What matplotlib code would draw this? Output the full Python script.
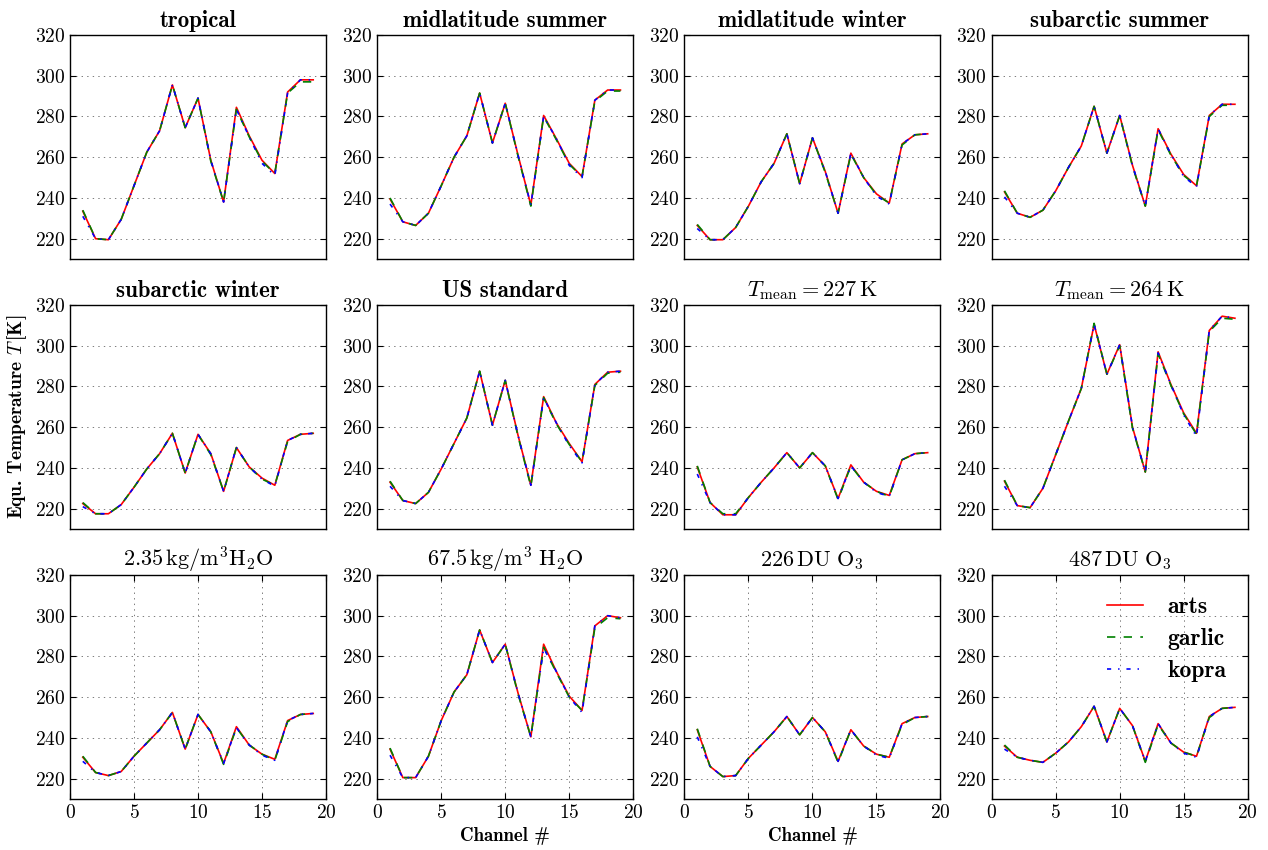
import numpy as np
import matplotlib
matplotlib.use('Agg')
import matplotlib.pyplot as plt

plt.rcParams.update({
    'font.family': 'serif',
    'font.serif': ['cmr10'],
    'mathtext.fontset': 'cm',
    'axes.formatter.use_mathtext': True,
    'axes.unicode_minus': False,
    'xtick.direction': 'in',
    'ytick.direction': 'in',
    'xtick.top': True,
    'ytick.right': True,
    'xtick.major.size': 4,
    'ytick.major.size': 4,
    'xtick.labelsize': 14,
    'ytick.labelsize': 14,
    'axes.linewidth': 1.0,
    'lines.scale_dashes': False,
    'lines.dashed_pattern': [6, 6],
    'lines.dashdot_pattern': [3, 5, 1, 5],
    'lines.dotted_pattern': [1, 3],
})

#%% Data (equivalent brightness temperatures per channel)
channels = np.arange(1, 20)

panels = ['tropical', 'mls', 'mlw', 'sas', 'saw', 'us',
          't227', 't264', 'h2o_low', 'h2o_high', 'o3_low', 'o3_high']

titles = ['tropical', 'midlatitude summer', 'midlatitude winter', 'subarctic summer',
          'subarctic winter', 'US standard',
          r'$T_{\mathrm{mean}} = 227\,\mathrm{K}$', r'$T_{\mathrm{mean}} = 264\,\mathrm{K}$',
          r'$2.35\,\mathrm{kg/m^3 H_2O}$', r'$67.5\,\mathrm{kg/m^3\ H_2O}$',
          r'$226\,\mathrm{DU\ O_3}$', r'$487\,\mathrm{DU\ O_3}$']
bold_title = [True] * 6 + [False] * 6

arts = {
    'tropical': [233.5, 220, 219.5, 229.5, 246, 262.5, 273, 295.5, 274.5, 289, 258.5, 238, 284.5, 270.5, 258.5, 252, 292, 298, 298],
    'mls':      [239.5, 228.3, 226.5, 232.5, 246, 260, 270.5, 291.5, 267, 286.5, 261, 236.5, 280.5, 269, 257, 250.5, 288, 293, 293],
    'mlw':      [226.5, 219.5, 219.5, 225.5, 236, 248, 257, 271.5, 247, 269.5, 253, 232.5, 262, 250, 242, 237.5, 266.5, 271, 271.5],
    'sas':      [243, 232.5, 230.5, 234, 243.5, 255, 265.5, 285, 262, 280.5, 256, 236, 274, 261.5, 251.5, 246, 280.5, 286, 286],
    'saw':      [222.5, 217.5, 217.5, 222, 230.5, 239.5, 247, 257, 237.5, 256.5, 247, 228.5, 250, 240.5, 235, 231.5, 253.5, 256.5, 257],
    'us':       [233, 224, 222.5, 228, 239.5, 252, 264.5, 287.5, 261, 283, 256, 231.5, 275, 262, 252, 243, 281, 287, 287.5],
    't227':     [240.5, 223, 217, 217, 225.5, 233, 240, 247.5, 240, 247.5, 241, 225, 241.5, 233, 228.5, 226.5, 244, 247, 247.5],
    't264':     [233.5, 221.5, 220.5, 230, 246.5, 263, 279, 310.5, 286, 300.5, 260, 238, 297, 281, 267, 257, 307.5, 314.5, 313.5],
    'h2o_low':  [230.5, 223, 221.5, 223.5, 231, 237.5, 244, 252.5, 234.5, 251.5, 243, 227.5, 245.5, 236.5, 232, 229.5, 248.5, 251.5, 252],
    'h2o_high': [234.5, 220.5, 220.5, 231, 248.5, 262.5, 271, 293, 277, 286, 262, 240.5, 286, 272.5, 260.5, 253.5, 295, 300, 299],
    'o3_low':   [244, 226, 221, 221.5, 230, 236.5, 243, 250.5, 241.5, 250, 243, 228.5, 244, 236, 232, 230.5, 247, 250, 250.5],
    'o3_high':  [236, 230.5, 229, 228, 232.5, 238, 245.5, 255.5, 238, 254.5, 246, 228.5, 247, 237.5, 233, 231, 250.5, 254.5, 255],
}

garlic = {
    'tropical': [234, 220, 219.5, 229.5, 246, 262.5, 273, 295.5, 274.5, 289, 258, 238, 283.5, 270, 258, 252, 291.5, 297, 297],
    'mls':      [240, 228.3, 226.5, 232.5, 246, 260, 270.5, 291.5, 267, 286.5, 260.5, 236, 280, 268.5, 256.5, 250.5, 287.5, 292.5, 292.5],
    'mlw':      [227, 219.5, 219.5, 225.5, 236, 248, 257, 271.5, 247, 269.5, 252.5, 232.5, 261.5, 250, 241.5, 237.5, 266, 271, 271.5],
    'sas':      [243.5, 232.5, 230.5, 234, 243.5, 255, 265.5, 285, 262, 280.5, 255.5, 236, 273.5, 261, 251, 246, 280, 285.5, 285.5],
    'saw':      [223, 217.5, 217.5, 222, 230.5, 239.5, 247, 257, 237.5, 256.5, 246.5, 228.5, 250, 240.5, 234.5, 231.5, 253, 256.5, 257],
    'us':       [233.5, 224, 222.5, 228, 239.5, 252, 264.5, 287.5, 261, 283, 255.5, 231, 274.5, 261.5, 251.5, 243, 280.5, 286.5, 287],
    't227':     [241, 223, 217.5, 217.5, 225.5, 233, 240, 247.5, 240, 247.5, 241, 224.5, 241, 233, 228.5, 226, 244, 247, 247.5],
    't264':     [234, 221.5, 220.5, 230, 246.5, 263, 279, 311, 286, 300, 259.5, 238, 296, 280.5, 266.5, 256.5, 307, 313.5, 313],
    'h2o_low':  [231, 223, 221.5, 223.5, 231, 237.5, 244, 252.5, 234.5, 251.5, 243, 227, 245, 236.5, 232, 229, 248, 251.5, 252],
    'h2o_high': [235, 220.5, 220.5, 231, 248.5, 262.5, 271, 293, 277, 286, 261.5, 240.5, 284.5, 272, 260, 253.5, 294, 299, 298.5],
    'o3_low':   [244.5, 226, 221, 221.5, 230, 236.5, 243, 250.5, 241.5, 250, 243, 228, 244, 236, 232, 230.5, 246.5, 250, 250.5],
    'o3_high':  [236.5, 230.5, 229, 228, 232.5, 238, 245.5, 255.5, 238, 254.5, 246, 228, 246.5, 237.5, 233, 231, 250, 254.5, 255],
}

kopra = {
    'tropical': [231, 220, 219.5, 229.5, 246, 262.5, 273, 295.5, 274.5, 289, 258.5, 238, 283.5, 270, 257, 251, 291.5, 298, 298],
    'mls':      [237, 228.3, 226.5, 232.5, 246, 260, 270.5, 291.5, 267, 286.5, 261, 236.5, 280, 269, 256, 250, 288, 293, 293],
    'mlw':      [225, 219.5, 219.5, 225.5, 236, 248, 257, 271.5, 247, 269.5, 253, 232.5, 262, 250, 241, 237, 266.5, 271, 271.5],
    'sas':      [240.5, 232.5, 230.5, 234, 243.5, 255, 265.5, 285, 262, 280.5, 256, 236, 274, 261.5, 250.5, 245.5, 280.5, 286, 286],
    'saw':      [221, 217.5, 217.5, 222, 230.5, 239.5, 247, 257, 237.5, 256.5, 247, 228.5, 250, 240.5, 234.5, 231, 253.5, 256.5, 257],
    'us':       [231, 224, 222.5, 228, 239.5, 252, 264.5, 287.5, 261, 283, 256, 231.5, 274.5, 262, 251, 242.5, 281, 287, 287.5],
    't227':     [237, 223, 217, 217, 225.5, 233, 240, 247.5, 240, 247.5, 241, 225, 241, 233, 228, 226, 244, 247, 247.5],
    't264':     [231, 221.5, 220.5, 230, 246.5, 263, 279, 310.5, 286, 300.5, 260, 238, 296.5, 281, 266, 255.5, 307.5, 314.5, 313.5],
    'h2o_low':  [228.5, 223, 221.5, 223.5, 231, 237.5, 244, 252.5, 234.5, 251.5, 243, 227.5, 245, 236.5, 231.5, 229, 248.5, 251.5, 252],
    'h2o_high': [231.5, 220.5, 220.5, 231, 248.5, 262.5, 271, 293, 277, 286, 262, 240.5, 284, 272.5, 260, 252.5, 295, 300, 299],
    'o3_low':   [240.5, 226, 221, 221.5, 230, 236.5, 243, 250.5, 241.5, 250, 243, 228.5, 244, 236, 231.5, 230, 247, 250, 250.5],
    'o3_high':  [234.5, 230.5, 229, 228, 232.5, 238, 245.5, 255.5, 238, 254.5, 246, 228.5, 247, 237.5, 232.5, 230.5, 250.5, 254.5, 255],
}

#%% Plot
fig, axes = plt.subplots(3, 4, figsize=(12.68, 8.5), dpi=100)
fig.subplots_adjust(left=0.0552, right=0.984, top=0.9588, bottom=0.06,
                    wspace=0.2, hspace=0.205)

for k, key in enumerate(panels):
    ax = axes.flat[k]
    row = k // 4
    h_a, = ax.plot(channels, arts[key], color='r', ls='-', lw=1.2)
    h_g, = ax.plot(channels, garlic[key], color='g', ls='--', lw=1.2)
    h_k, = ax.plot(channels, kopra[key], color='b', ls='-.', lw=1.2)
    ax.set_xlim(0, 20)
    ax.set_ylim(210, 320)
    ax.set_yticks([220, 240, 260, 280, 300, 320])
    if row < 2:
        ax.set_xticks([])
        ax.grid(axis='y', color='0.4', ls=':', lw=0.6)
    else:
        ax.set_xticks([0, 5, 10, 15, 20])
        ax.grid(color='0.4', ls=':', lw=0.6)
    if bold_title[k]:
        ax.set_title(titles[k], fontsize=16.5, fontfamily='cmb10', pad=6)
    else:
        ax.set_title(titles[k], fontsize=16, pad=6)

axes[1, 0].set_ylabel(r'Equ. Temperature $T\,$[K]', fontsize=14, fontfamily='cmb10')
axes[2, 1].set_xlabel('Channel #', fontsize=13.5, fontfamily='cmb10')
axes[2, 2].set_xlabel('Channel #', fontsize=13.5, fontfamily='cmb10')

leg = axes[2, 3].legend([h_a, h_g, h_k], ['arts', 'garlic', 'kopra'],
                        loc='upper right', frameon=False, handlelength=1.5,
                        handletextpad=1.05, labelspacing=0.42,
                        prop={'family': 'cmb10', 'size': 17})

fig.savefig('out.png', dpi=100, facecolor='white')
